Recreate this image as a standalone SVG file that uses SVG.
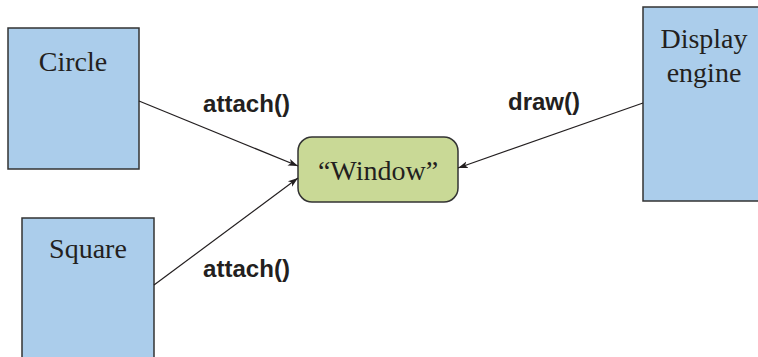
<svg xmlns="http://www.w3.org/2000/svg" width="758" height="357" viewBox="0 0 758 357">
  <style>
    .box { fill: #abcdeb; stroke: #333; stroke-width: 1.5; }
    .win { fill: #c9d996; stroke: #333; stroke-width: 1.5; }
    .name { font-family: "Liberation Serif", "Times New Roman", serif; font-size: 28px; fill: #231f20; text-anchor: middle; }
    .call { font-family: "Liberation Sans", Arial, sans-serif; font-weight: bold; font-size: 24px; fill: #231f20; }
    .edge { stroke: #231f20; stroke-width: 1.2; fill: none; marker-end: url(#arrow); }
  </style>
  <defs>
    <marker id="arrow" viewBox="0 0 10 10" refX="10" refY="5" markerWidth="10" markerHeight="10" markerUnits="userSpaceOnUse" orient="auto">
      <path d="M0,1.5 L10,5 L0,8.5 L2.5,5 Z" fill="#231f20"/>
    </marker>
  </defs>
  <rect width="758" height="357" fill="#fff"/>

  <g id="circle">
    <rect class="box" x="8" y="28" width="131" height="141"/>
    <text class="name" x="73" y="71">Circle</text>
  </g>

  <g id="square">
    <rect class="box" x="22" y="218" width="132" height="145"/>
    <text class="name" x="88" y="258">Square</text>
  </g>

  <g id="display-engine">
    <rect class="box" x="643" y="7" width="120" height="194"/>
    <text class="name" x="704" y="48">Display</text>
    <text class="name" x="704" y="82">engine</text>
  </g>

  <g id="window">
    <rect class="win" x="298" y="137" width="160" height="65" rx="14" ry="14"/>
    <text class="name" x="378" y="180">“Window”</text>
  </g>

  <g id="connectors">
    <line class="edge" x1="139" y1="101" x2="298" y2="166"/>
    <line class="edge" x1="154" y1="285" x2="298" y2="178"/>
    <line class="edge" x1="643" y1="103" x2="458" y2="168"/>
    <text class="call" x="203" y="112" textLength="87" lengthAdjust="spacingAndGlyphs">attach()</text>
    <text class="call" x="203" y="277" textLength="87" lengthAdjust="spacingAndGlyphs">attach()</text>
    <text class="call" x="508" y="110" textLength="72" lengthAdjust="spacingAndGlyphs">draw()</text>
  </g>
</svg>
